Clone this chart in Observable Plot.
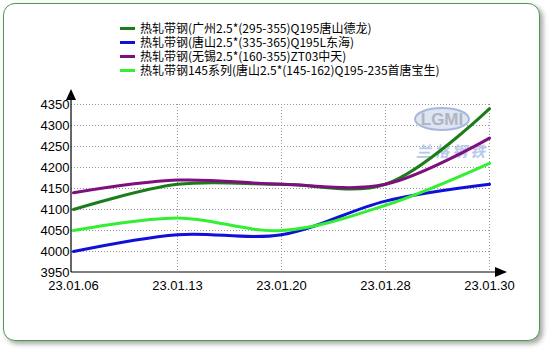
<!DOCTYPE html>
<html>
<head>
<meta charset="utf-8">
<script src="https://cdn.jsdelivr.net/npm/d3@7"></script>
<script src="https://cdn.jsdelivr.net/npm/@observablehq/plot@0.6"></script>
<style>
  html, body { margin: 0; padding: 0; background: #fff; }
  #wrap { position: relative; width: 550px; height: 350px; overflow: hidden; }
  #frame { position: absolute; left: 3px; top: 3px; width: 535px; height: 336px;
    border: 1.5px solid #4a9a4a; border-radius: 12px; background: #fff;
    box-shadow: 3px 3px 5px rgba(0,0,0,0.35); }
  #chart { position: absolute; left: 0; top: 0; }
  #legend { position: absolute; left: 120px; top: 21px; font-family: "Noto Sans CJK SC", sans-serif;
    font-size: 12px; line-height: 14px; color: #000; }
  .row { display: flex; align-items: center; height: 14px; white-space: nowrap; }
  .sw { width: 15px; height: 3px; margin-right: 5px; }
</style>
</head>
<body>
<div id="wrap">
  <div id="frame"></div>
  <div id="chart"></div>
  <div id="legend"></div>
</div>
<script>
const dates = ["23.01.06", "23.01.13", "23.01.20", "23.01.28", "23.01.30"];
const seriesNames = [
  "热轧带钢(广州2.5*(295-355)Q195唐山德龙)",
  "热轧带钢(唐山2.5*(335-365)Q195L东海)",
  "热轧带钢(无锡2.5*(160-355)ZT03中天)",
  "热轧带钢145系列(唐山2.5*(145-162)Q195-235首唐宝生)"
];
const guangzhouDelong = [4100, 4160, 4160, 4160, 4340];
const tangshanDonghai = [4000, 4040, 4040, 4120, 4160];
const wuxiZhongtian = [4140, 4170, 4160, 4160, 4270];
const shoutangBaosheng = [4050, 4080, 4050, 4110, 4210];
const yTicks = [3950, 4000, 4050, 4100, 4150, 4200, 4250, 4300, 4350];
const colors = ["#1a7d1a", "#1010d8", "#7f0f7f", "#33ee33"];

const seriesValues = [guangzhouDelong, tangshanDonghai, wuxiZhongtian, shoutangBaosheng];
const data = [];
seriesValues.forEach((vals, i) => vals.forEach((v, j) => data.push({series: seriesNames[i], date: dates[j], value: v})));

// legend
const legend = document.getElementById("legend");
seriesNames.forEach((n, i) => {
  const r = document.createElement("div");
  r.className = "row";
  r.innerHTML = `<div class="sw" style="background:${colors[i]}"></div><span>${n}</span>`;
  legend.appendChild(r);
});

const NS = "http://www.w3.org/2000/svg";
function el(tag, attrs) {
  const e = document.createElementNS(NS, tag);
  for (const k in attrs) e.setAttribute(k, attrs[k]);
  return e;
}

// watermark (decorative logo)
function watermark(index, scales, values, dims) {
  const g = el("g", {});
  const right = dims.width - dims.marginRight;
  const top = dims.marginTop;
  g.appendChild(el("ellipse", {cx: right - 48, cy: top + 15, rx: 27, ry: 11, fill: "#dde4f2", stroke: "#a8b8dc", "stroke-width": 2}));
  const t = el("text", {x: right - 48, y: top + 21, "text-anchor": "middle", "font-family": "Liberation Sans, Arial", "font-size": 17, "font-weight": "bold", fill: "#b0b4c0"});
  t.textContent = "LGMI";
  g.appendChild(t);
  const t2 = el("text", {x: right - 38, y: top + 53, "text-anchor": "middle", "font-family": "Noto Sans CJK SC", "font-size": 15, "font-style": "italic", "font-weight": "bold", fill: "#b8c8e8", "letter-spacing": 3});
  t2.textContent = "兰格钢铁";
  g.appendChild(t2);
  return g;
}

// axis lines with arrowheads
function axesArrows(index, scales, values, dims) {
  const g = el("g", {});
  const x0 = dims.marginLeft;
  const y0 = dims.height - dims.marginBottom;
  const top = dims.marginTop;
  const right = dims.width - dims.marginRight;
  g.appendChild(el("line", {x1: x0, y1: y0, x2: x0, y2: top - 4, stroke: "#000", "stroke-width": 1.2}));
  g.appendChild(el("path", {d: `M${x0 - 5},${top - 4}L${x0 + 5},${top - 4}L${x0},${top - 15}Z`, fill: "#000"}));
  g.appendChild(el("line", {x1: x0, y1: y0, x2: right + 5, y2: y0, stroke: "#000", "stroke-width": 1.2}));
  g.appendChild(el("path", {d: `M${right + 5},${y0 - 5}L${right + 5},${y0 + 5}L${right + 17},${y0}Z`, fill: "#000"}));
  return g;
}

const chart = Plot.plot({
  width: 550,
  height: 350,
  marginLeft: 71,
  marginRight: 60,
  marginTop: 104,
  marginBottom: 78,
  style: {background: "transparent", fontFamily: "Liberation Sans, Arial, sans-serif", fontSize: "13px", color: "#000"},
  x: {type: "point", domain: dates, padding: 0},
  y: {domain: [3950, 4350]},
  color: {domain: seriesNames, range: colors},
  marks: [
    Plot.ruleY(yTicks.slice(1), {stroke: "#999", strokeDasharray: "1,2", strokeWidth: 1}),
    Plot.ruleX(dates.slice(1), {stroke: "#999", strokeDasharray: "1,2", strokeWidth: 1}),
    watermark,
    Plot.line(data, {x: "date", y: "value", z: "series", stroke: "series", curve: "catmull-rom", strokeWidth: 3}),
    Plot.axisY({ticks: yTicks, tickSize: 0, tickPadding: 2, label: null, tickFormat: d => String(d), fontSize: 13}),
    Plot.axisX({tickSize: 0, tickPadding: 8, label: null, fontSize: 13}),
    axesArrows
  ]
});
document.getElementById("chart").appendChild(chart);
</script>
</body>
</html>
